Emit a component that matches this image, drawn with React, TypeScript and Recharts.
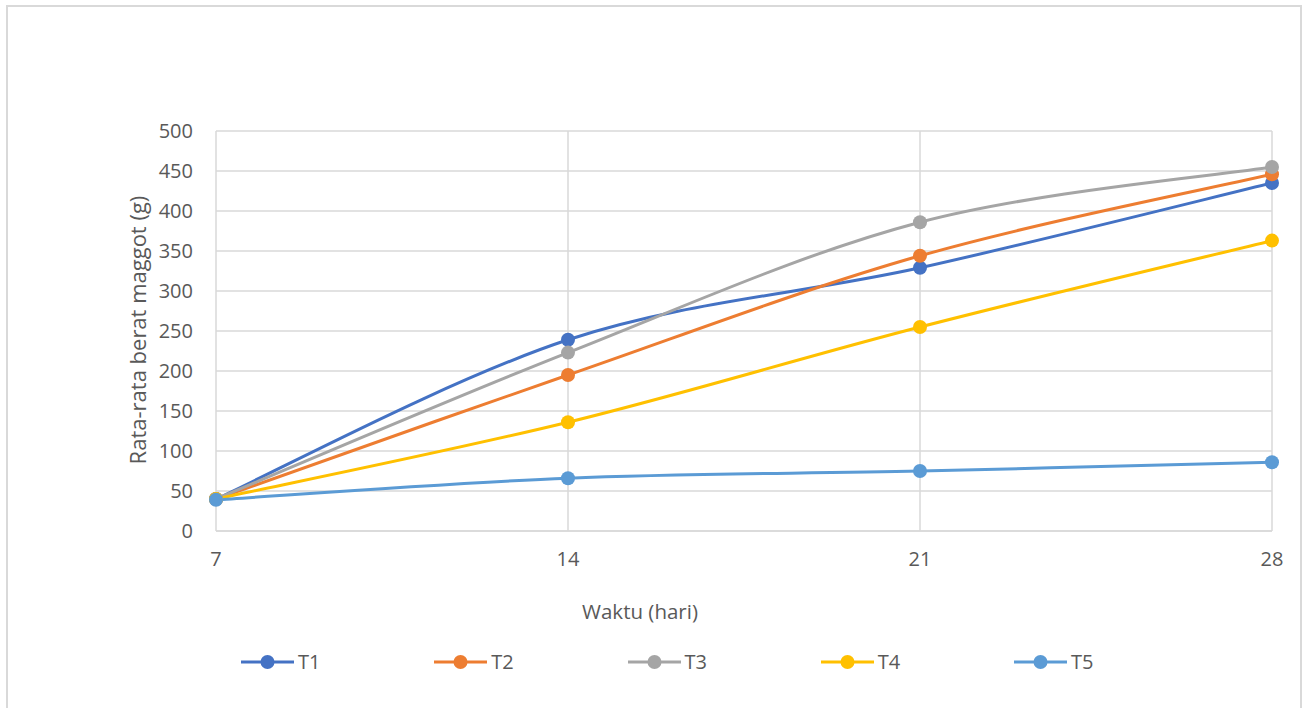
import React from "react";
import { LineChart, Line, XAxis, YAxis, CartesianGrid } from "recharts";

const days = [7, 14, 21, 28];
const t1 = [40, 239, 329, 435];
const t2 = [40, 195, 344, 446];
const t3 = [40, 223, 386, 455];
const t4 = [40, 136, 255, 363];
const t5 = [39, 66, 75, 86];
const yTicks = [0, 50, 100, 150, 200, 250, 300, 350, 400, 450, 500];

const seriesInfo = [
  { key: "T1", color: "#4472C4", values: t1 },
  { key: "T2", color: "#ED7D31", values: t2 },
  { key: "T3", color: "#A5A5A5", values: t3 },
  { key: "T4", color: "#FFC000", values: t4 },
  { key: "T5", color: "#5B9BD5", values: t5 },
];

const data = days.map((d, i) => {
  const row: any = { day: d };
  seriesInfo.forEach((s) => (row[s.key] = s.values[i]));
  return row;
});

const FONT = "'Open Sans', sans-serif";
const TEXT = "#595959";
const GRID = "#d9d9d9";

// Excel-style smoothed line (Catmull-Rom as cubic beziers)
const excelCurve = (context: any) => {
  let pts: number[][] = [];
  return {
    areaStart() {},
    areaEnd() {},
    lineStart() {
      pts = [];
    },
    point(x: number, y: number) {
      pts.push([+x, +y]);
    },
    lineEnd() {
      const n = pts.length;
      if (!n) return;
      context.moveTo(pts[0][0], pts[0][1]);
      for (let i = 0; i < n - 1; i++) {
        const p0 = pts[Math.max(i - 1, 0)];
        const p1 = pts[i];
        const p2 = pts[i + 1];
        const p3 = pts[Math.min(i + 2, n - 1)];
        context.bezierCurveTo(
          p1[0] + (p2[0] - p0[0]) / 6,
          p1[1] + (p2[1] - p0[1]) / 6,
          p2[0] - (p3[0] - p1[0]) / 6,
          p2[1] - (p3[1] - p1[1]) / 6,
          p2[0],
          p2[1]
        );
      }
    },
  };
};

export default function App() {
  return (
    <div style={{ position: "absolute", left: 0, top: 0, width: 1308, height: 708, background: "#fff", fontFamily: FONT }}>
      <div
        style={{
          position: "absolute",
          left: 6,
          top: 5,
          width: 1296,
          height: 703,
          border: `2px solid ${GRID}`,
          boxSizing: "border-box",
          borderBottom: "none",
        }}
      />
      <LineChart
        width={1308}
        height={708}
        data={data}
        margin={{ top: 131, right: 36, bottom: 147, left: 0 }}
        style={{ position: "absolute", left: 0, top: 0 }}
      >
        <CartesianGrid stroke={GRID} strokeWidth={1.5} />
        <XAxis
          dataKey="day"
          type="number"
          domain={[7, 28]}
          ticks={days}
          height={30}
          tickLine={false}
          tickSize={0}
          tickMargin={21}
          axisLine={{ stroke: GRID, strokeWidth: 1.5 }}
          tick={{ fill: TEXT, fontSize: 20, fontFamily: FONT }}
        />
        <YAxis
          type="number"
          domain={[0, 500]}
          ticks={yTicks}
          width={216}
          tickLine={false}
          tickSize={0}
          tickMargin={23}
          axisLine={false}
          tick={{ fill: TEXT, fontSize: 20, fontFamily: FONT }}
        />
        {seriesInfo.map((s) => (
          <Line
            key={s.key}
            dataKey={s.key}
            type={excelCurve as any}
            stroke={s.color}
            strokeWidth={3}
            dot={{ r: 7, fill: s.color, stroke: s.color, strokeWidth: 0 }}
            isAnimationActive={false}
          />
        ))}
        <text
          x={137}
          y={330}
          transform="rotate(-90 137 330)"
          textAnchor="middle"
          dominantBaseline="central"
          fill={TEXT}
          fontSize={22}
          fontFamily={FONT}
        >
          Rata-rata berat maggot (g)
        </text>
        <text x={640} y={611} textAnchor="middle" dominantBaseline="central" fill={TEXT} fontSize={20.5} fontFamily={FONT}>
          Waktu (hari)
        </text>
      </LineChart>
      {/* Legend */}
      {seriesInfo.map((s, i) => (
        <div
          key={s.key}
          style={{
            position: "absolute",
            left: 241 + i * 193.25,
            top: 650,
            height: 24,
            display: "flex",
            alignItems: "center",
            gap: 4,
          }}
        >
          <svg width={53} height={24}>
            <line x1={0} y1={12} x2={53} y2={12} stroke={s.color} strokeWidth={3} />
            <circle cx={26.5} cy={12} r={7} fill={s.color} />
          </svg>
          <span style={{ color: TEXT, fontSize: 20, lineHeight: "24px" }}>{s.key}</span>
        </div>
      ))}
    </div>
  );
}
